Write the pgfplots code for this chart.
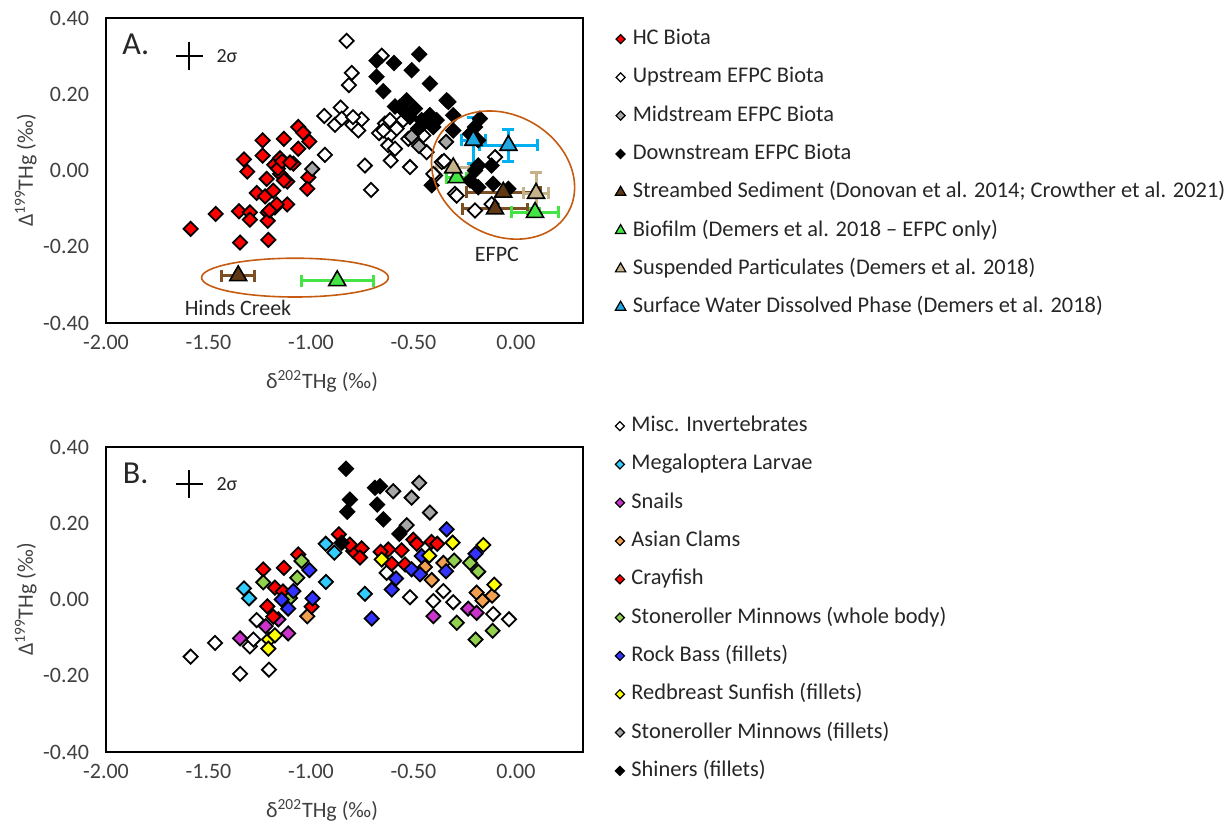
\documentclass[border=0pt]{standalone}
\usepackage{fontspec}
\setmainfont{Carlito}
\usepackage{pgfplots}
\pgfplotsset{compat=1.18}
\definecolor{hcred}{HTML}{FF0000}
\definecolor{midgray}{HTML}{A6A6A6}
\definecolor{sedfill}{HTML}{603813}
\definecolor{sedbar}{HTML}{7F4F24}
\definecolor{biogreen}{HTML}{44E444}
\definecolor{tanc}{HTML}{C4B28A}
\definecolor{swfill}{HTML}{1EA7E1}
\definecolor{swbar}{HTML}{00B0F0}
\definecolor{ellc}{HTML}{C55A11}
\definecolor{cyanc}{HTML}{33CCFF}
\definecolor{purplec}{HTML}{CC33CC}
\definecolor{orangec}{HTML}{F0A050}
\definecolor{greenc}{HTML}{92D050}
\definecolor{bluec}{HTML}{3333FF}
\definecolor{yellowc}{HTML}{FFFF00}
\definecolor{tickc}{HTML}{404040}
\definecolor{txtc}{HTML}{262626}
\pgfplotsset{
  panel/.style={
    scale only axis, width=238.5pt, height=152.5pt,
    xmin=-2, xmax=0.327, ymin=-0.4, ymax=0.4,
    xtick={-2,-1.5,-1,-0.5,0}, ytick={-0.4,-0.2,0,0.2,0.4},
    major tick length=0pt,
    /pgf/number format/.cd, fixed, fixed zerofill, precision=2, assume math mode=true,
    /pgfplots/.cd,
    tick label style={font=\fontsize{11}{13}\selectfont, text=tickc},
    yticklabel shift=5pt, xticklabel shift=2.5pt,
    axis line style={line width=0.9pt, black},
    xlabel={δ\textsuperscript{202}THg (‰)},
    ylabel={Δ\textsuperscript{199}THg (‰)},
    every axis x label/.style={at={(axis description cs:0.453,-0.193)}, anchor=center, font=\fontsize{11}{13}\selectfont, text=tickc},
    every axis y label/.style={at={(axis description cs:-0.168,0.5)}, rotate=90, anchor=center, font=\fontsize{11}{13}\selectfont, text=tickc},
    legend cell align=left,
    legend image code/.code={\draw[##1] plot coordinates {(0pt,0pt)};},
  },
  dia/.style={only marks, mark=square*, mark size=2.5pt, mark options={rotate=45, draw=black, line width=0.9pt, fill=#1}, forget plot},
  ldia/.style={only marks, mark=square*, mark size=1.6pt, mark options={rotate=45, draw=black, line width=0.6pt, fill=#1}},
  tri/.style 2 args={only marks, mark=triangle*, mark size=4.9pt, mark options={draw=black, line width=0.8pt, fill=#1}, forget plot,
     error bars/error bar style={line width=1.5pt, color=#2},
     error bars/error mark options={rotate=90, mark size=3pt, line width=1.5pt, color=#2}},
  ltri/.style={only marks, mark=triangle*, mark size=3pt, mark options={draw=black, line width=0.6pt, fill=#1}},
  sigma/.style={forget plot, mark=none, draw=none, error bars/.cd, x dir=both, x explicit, y dir=both, y explicit, error mark=none, error bar style={line width=1pt, black}},
  legA/.style={legend style={at={(1,1)}, anchor=north west, xshift=16.2pt, yshift=#1, draw=none, fill=none,
    inner sep=0pt, outer sep=0pt, row sep=9.65pt, column sep=3.5pt,
    font=\fontsize{11.2}{13}\selectfont, text=txtc,
    nodes={inner sep=0pt, text height=7.5pt, text depth=2pt}}},
}
\begin{document}
\begin{tikzpicture}[x=1pt,y=1pt]
\useasboundingbox (0pt,0pt) rectangle (613.5pt,413pt);
% ================= Panel A =================
\begin{axis}[panel, at={(53pt,404pt)}, anchor=north west, legA=-5.8pt]
\addplot[dia=hcred] coordinates {
(-1.587,-0.153) (-1.465,-0.114) (-1.351,-0.107) (-1.298,-0.110) (-1.298,-0.129)
(-1.346,-0.189) (-1.208,-0.182) (-1.211,-0.110) (-1.211,-0.132) (-1.176,-0.097)
(-1.116,-0.089) (-1.265,-0.059) (-1.224,-0.068) (-1.184,-0.053) (-1.216,-0.022)
(-1.151,-0.009) (-1.116,-0.029) (-1.179,0.015) (-1.151,0.032) (-1.086,0.018)
(-1.327,0.029) (-1.311,-0.003) (-1.236,0.079) (-1.236,0.039) (-1.132,0.083)
(-1.062,0.114) (-1.038,0.099) (-1.008,0.076) (-1.062,0.057) (-1.013,-0.018)
(-1.018,-0.048) (-1.161,0.005) (-1.132,-0.026) (-1.141,0.024) (-1.102,0.021)
(-1.167,-0.089) (-1.203,-0.105)
};
\addplot[dia=white] coordinates {
(-0.826,0.340) (-0.801,0.256) (-0.815,0.224) (-0.655,0.301) (-0.855,0.165)
(-0.935,0.143) (-0.883,0.120) (-0.850,0.136) (-0.798,0.120) (-0.753,0.134)
(-0.769,0.105) (-0.932,0.041) (-0.737,0.013) (-0.707,-0.051) (-0.668,0.098)
(-0.639,0.123) (-0.615,0.132) (-0.550,0.132) (-0.615,0.092) (-0.582,0.110)
(-0.623,0.066) (-0.590,0.057) (-0.611,0.026) (-0.517,0.009) (-0.525,0.083)
(-0.436,0.048) (-0.362,0.022) (-0.395,-0.013) (-0.298,-0.061) (-0.403,-0.009)
(-0.351,0.025) (-0.289,-0.066) (-0.102,0.035) (-0.119,-0.088) (-0.200,-0.105)
(-0.452,0.092) (-0.795,0.140) (-0.647,0.105)
};
\addplot[dia=midgray] coordinates {
(-0.994,0.004) (-0.509,0.089) (-0.473,0.064) (-0.341,0.075)
};
\addplot[dia=black] coordinates {
(-0.680,0.288) (-0.595,0.282) (-0.472,0.305) (-0.509,0.263) (-0.680,0.246)
(-0.647,0.208) (-0.420,0.228) (-0.533,0.184) (-0.338,0.184) (-0.566,0.167)
(-0.493,0.162) (-0.517,0.140) (-0.420,0.145) (-0.387,0.132) (-0.306,0.145)
(-0.452,0.123) (-0.403,0.114) (-0.306,0.105) (-0.477,0.110) (-0.411,-0.039)
(-0.330,0.180) (-0.176,0.136) (-0.200,0.114) (-0.224,0.096) (-0.184,0.079)
(-0.184,0.013) (-0.119,0.013) (-0.224,-0.026) (-0.184,-0.044) (-0.111,-0.035)
(-0.037,-0.048) (-0.460,0.132) (-0.541,0.153) (-0.590,0.168) (-0.200,0.000)
};
% streambed sediment
\addplot[tri={sedfill}{sedbar}, error bars/.cd, x dir=both, x explicit] coordinates {
(-1.355,-0.276) +- (0.08,0)
(-0.062,-0.057) +- (0.18,0)
(-0.102,-0.101) +- (0.16,0)
};
% biofilm
\addplot[tri={biogreen}{biogreen}, error bars/.cd, x dir=both, x explicit] coordinates {
(-0.872,-0.289) +- (0.175,0)
(-0.289,-0.019) +- (0.05,0)
};
\addplot[tri={biogreen}{biogreen}, error bars/.cd, x dir=both, x explicit, y dir=both, y explicit] coordinates {
(0.093,-0.110) +- (0.116,0.01)
};
% suspended particulates
\addplot[tri={tanc}{tanc}, error bars/.cd, x dir=both, x explicit, y dir=both, y explicit] coordinates {
(-0.306,0.007) +- (0.08,0.01)
(0.098,-0.060) +- (0.06,0.056)
};
% surface water dissolved
\addplot[tri={swfill}{swbar}, error bars/.cd, x dir=both, x explicit, y dir=both, y explicit] coordinates {
(-0.208,0.079) +- (0.06,0.06)
(-0.037,0.066) +- (0.14,0.042)
};
\addplot[sigma] coordinates {(-1.593,0.300) +- (0.066,0.037)};
\node[font=\fontsize{10}{12}\selectfont, text=txtc] at (axis cs:-1.410,0.300) {2σ};
\node[font=\fontsize{16}{18}\selectfont, text=txtc] at (axis cs:-1.855,0.330) {A.};
\node[font=\fontsize{11}{13}\selectfont, text=txtc] at (axis cs:-1.356,-0.361) {Hinds Creek};
\node[font=\fontsize{11}{13}\selectfont, text=txtc] at (axis cs:-0.093,-0.221) {EFPC};
\coordinate (hc) at (axis cs:-1.078,-0.281);
\coordinate (ef) at (axis cs:-0.063,-0.012);
\addlegendimage{ldia=hcred}\addlegendentry{HC Biota}
\addlegendimage{ldia=white}\addlegendentry{Upstream EFPC Biota}
\addlegendimage{ldia=midgray}\addlegendentry{Midstream EFPC Biota}
\addlegendimage{ldia=black}\addlegendentry{Downstream EFPC Biota}
\addlegendimage{ltri=sedfill}\addlegendentry{Streambed Sediment (Donovan et al. 2014; Crowther et al. 2021)}
\addlegendimage{ltri=biogreen}\addlegendentry{Biofilm (Demers et al. 2018 – EFPC only)}
\addlegendimage{ltri=tanc}\addlegendentry{Suspended Particulates (Demers et al. 2018)}
\addlegendimage{ltri=swfill}\addlegendentry{Surface Water Dissolved Phase (Demers et al. 2018)}
\end{axis}
\draw[ellc, line width=0.8pt] (hc) ellipse [x radius=46.7pt, y radius=9.7pt];
\draw[ellc, line width=0.8pt, rotate around={-30:(ef)}] (ef) ellipse [x radius=37.5pt, y radius=30pt];
% ================= Panel B =================
\begin{axis}[panel, at={(53pt,189.5pt)}, anchor=north west, legA=15.2pt]
\addplot[dia=white] coordinates {
(-1.587,-0.150) (-1.468,-0.114) (-1.346,-0.195) (-1.205,-0.184) (-1.298,-0.123)
(-1.281,-0.105) (-1.265,-0.054) (-0.517,0.006) (-0.403,-0.004) (-0.354,0.022)
(-0.306,-0.007) (-0.111,-0.038) (-0.034,-0.052) (-0.631,0.070)
};
\addplot[dia=cyanc] coordinates {
(-1.327,0.029) (-1.302,0.003) (-0.928,0.146) (-0.886,0.123) (-0.927,0.046) (-0.737,0.015)
};
\addplot[dia=purplec] coordinates {
(-1.346,-0.102) (-1.221,-0.070) (-1.111,-0.089) (-1.159,-0.052) (-0.403,-0.044)
(-0.233,-0.024) (-0.192,-0.035)
};
\addplot[dia=orangec] coordinates {
(-1.018,-0.044) (-0.444,0.085) (-0.411,0.051) (-0.354,0.096) (-0.192,0.018)
(-0.163,-0.003) (-0.116,0.010)
};
\addplot[dia=hcred] coordinates {
(-1.233,0.079) (-1.132,0.083) (-1.062,0.118) (-1.176,0.031) (-1.137,0.021)
(-1.213,-0.018) (-1.184,-0.045) (-0.997,-0.019) (-0.864,0.171) (-0.794,0.127)
(-0.753,0.134) (-0.761,0.110) (-0.623,0.131) (-0.606,0.094) (-0.558,0.129)
(-0.501,0.157) (-0.484,0.146) (-0.412,0.151) (-0.384,0.146) (-0.541,0.092)
(-0.660,0.125) (-0.810,0.144)
};
\addplot[dia=greenc] coordinates {
(-1.233,0.045) (-1.046,0.101) (-1.067,0.057) (-1.102,0.004) (-0.302,0.102)
(-0.224,0.096) (-0.184,0.073) (-0.289,-0.061) (-0.197,-0.105) (-0.114,-0.082)
};
\addplot[dia=bluec] coordinates {
(-1.008,0.077) (-1.086,0.022) (-1.143,0.000) (-1.111,-0.024) (-0.992,0.003)
(-0.338,0.184) (-0.509,0.079) (-0.468,0.066) (-0.585,0.055) (-0.606,0.026)
(-0.704,-0.050) (-0.341,0.074) (-0.197,0.120) (-0.460,0.114)
};
\addplot[dia=yellowc] coordinates {
(-1.205,-0.105) (-1.176,-0.094) (-1.208,-0.129) (-0.655,0.105) (-0.423,0.115)
(-0.309,0.149) (-0.159,0.143) (-0.106,0.039)
};
\addplot[dia=midgray] coordinates {
(-0.472,0.306) (-0.599,0.284) (-0.509,0.267) (-0.420,0.228) (-0.533,0.195)
};
\addplot[dia=black] coordinates {
(-0.829,0.343) (-0.663,0.297) (-0.688,0.293) (-0.810,0.262) (-0.823,0.230)
(-0.677,0.249) (-0.647,0.210) (-0.569,0.172) (-0.850,0.149)
};
\addplot[sigma] coordinates {(-1.593,0.302) +- (0.066,0.037)};
\node[font=\fontsize{10}{12}\selectfont, text=txtc] at (axis cs:-1.410,0.302) {2σ};
\node[font=\fontsize{16}{18}\selectfont, text=txtc] at (axis cs:-1.855,0.330) {B.};
\addlegendimage{ldia=white}\addlegendentry{Misc. Invertebrates}
\addlegendimage{ldia=cyanc}\addlegendentry{Megaloptera Larvae}
\addlegendimage{ldia=purplec}\addlegendentry{Snails}
\addlegendimage{ldia=orangec}\addlegendentry{Asian Clams}
\addlegendimage{ldia=hcred}\addlegendentry{Crayfish}
\addlegendimage{ldia=greenc}\addlegendentry{Stoneroller Minnows (whole body)}
\addlegendimage{ldia=bluec}\addlegendentry{Rock Bass (fillets)}
\addlegendimage{ldia=yellowc}\addlegendentry{Redbreast Sunfish (fillets)}
\addlegendimage{ldia=midgray}\addlegendentry{Stoneroller Minnows (fillets)}
\addlegendimage{ldia=black}\addlegendentry{Shiners (fillets)}
\end{axis}
\end{tikzpicture}
\end{document}
